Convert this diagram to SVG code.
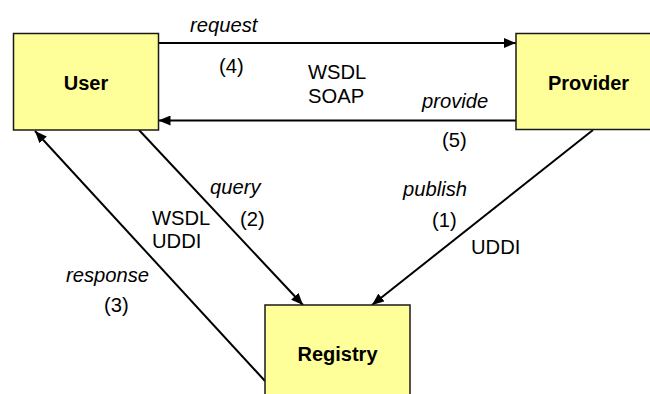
<svg xmlns="http://www.w3.org/2000/svg" width="650" height="394" viewBox="0 0 650 394">
<style>
.box{fill:#ffff99;stroke:#1a1a1a;stroke-width:1.5}
.lbl{font-family:"Liberation Sans",Arial,sans-serif;font-size:20px;font-weight:bold;fill:#000;text-anchor:middle}
.t{font-family:"Liberation Sans",Arial,sans-serif;font-size:20.2px;fill:#000}
.i{font-style:italic}
.ln{stroke:#000;stroke-width:2;fill:none;marker-end:url(#ah)}
</style>
<defs>
<marker id="ah" viewBox="0 0 12 10" refX="12" refY="5" markerWidth="12" markerHeight="10" markerUnits="userSpaceOnUse" orient="auto">
<path d="M0,0 L12,5 L0,10 Z" fill="#000"/>
</marker>
</defs>
<rect width="650" height="394" fill="#fff"/>
<g id="connectors">
<line class="ln" x1="158.5" y1="43" x2="516" y2="43"/>
<line class="ln" x1="516" y1="120.5" x2="158.5" y2="120.5"/>
<line class="ln" x1="139" y1="130" x2="303" y2="305"/>
<line class="ln" x1="265" y1="381" x2="35" y2="131"/>
<line class="ln" x1="593" y1="130" x2="372" y2="305"/>
</g>
<g id="user">
<rect class="box" x="13.5" y="33.5" width="145" height="96.5"/>
<text class="lbl" x="86" y="90">User</text>
</g>
<g id="provider">
<rect class="box" x="516" y="33.5" width="145" height="96"/>
<text class="lbl" x="588.5" y="90">Provider</text>
</g>
<g id="registry">
<rect class="box" x="265" y="305" width="145" height="97"/>
<text class="lbl" x="337.5" y="361">Registry</text>
</g>
<g id="labels">
<text class="t i" x="190" y="32">request</text>
<text class="t" x="219" y="73">(4)</text>
<text class="t" x="308" y="79">WSDL</text>
<text class="t" x="308" y="103">SOAP</text>
<text class="t i" x="422" y="108">provide</text>
<text class="t" x="442" y="147">(5)</text>
<text class="t i" x="403" y="196">publish</text>
<text class="t" x="432" y="227">(1)</text>
<text class="t" x="471" y="254">UDDI</text>
<text class="t i" x="210" y="194">query</text>
<text class="t" x="240" y="226">(2)</text>
<text class="t" x="152" y="225">WSDL</text>
<text class="t" x="152" y="248">UDDI</text>
<text class="t i" x="66" y="282">response</text>
<text class="t" x="104" y="312">(3)</text>
</g>
</svg>
